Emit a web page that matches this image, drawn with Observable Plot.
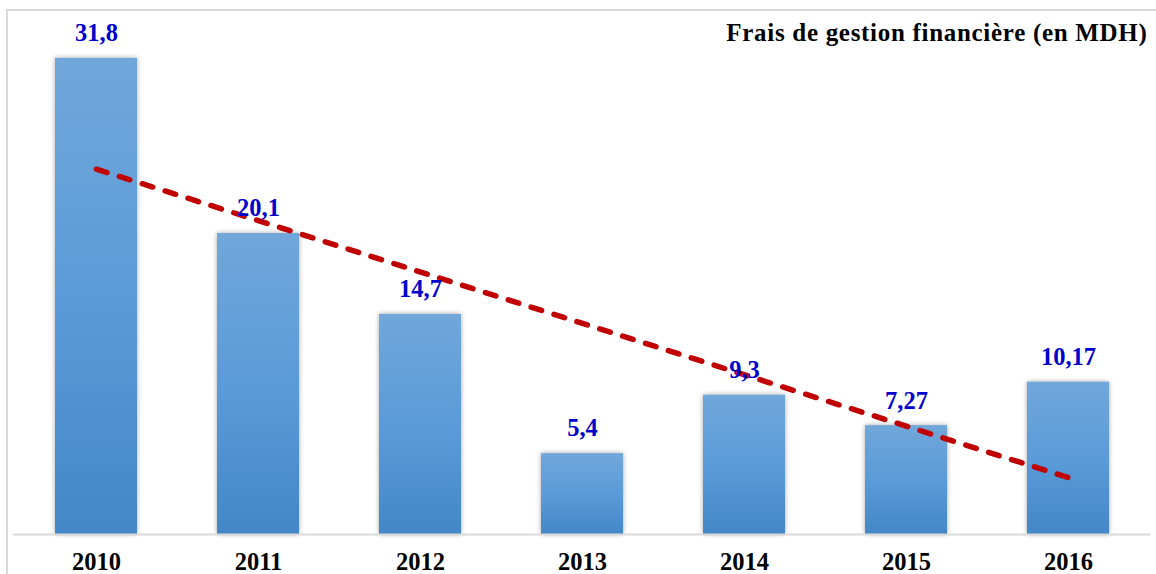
<!DOCTYPE html>
<html>
<head>
<meta charset="utf-8">
<script src="https://cdn.jsdelivr.net/npm/d3@7"></script>
<script src="https://cdn.jsdelivr.net/npm/@observablehq/plot@0.6"></script>
<style>
  html, body { margin: 0; padding: 0; background: #fff; }
  #wrap { position: relative; width: 1156px; height: 574px; overflow: hidden; }
  #wrap svg { display: block; }
  #frame { position: absolute; left: 6px; top: 9px; width: 1160px; height: 600px;
           border-top: 2px solid #d9d9d9; border-left: 2px solid #d9d9d9; pointer-events: none; }
  .bars rect { filter: drop-shadow(0px 0px 2.5px rgba(0,0,0,0.35)); }
  .title text { letter-spacing: 0.7px; }
</style>
</head>
<body>
<div id="wrap"><div id="frame"></div></div>
<script>
const years = ["2010", "2011", "2012", "2013", "2014", "2015", "2016"];
const values = [31.8, 20.1, 14.7, 5.4, 9.3, 7.27, 10.17];
const labels = ["31,8", "20,1", "14,7", "5,4", "9,3", "7,27", "10,17"];
const trendYears = ["2010", "2016"];
const trendValues = [24.4, 3.8];
const title = "Frais de gestion financière (en MDH)";

const data = years.map((y, i) => ({year: y, value: values[i], label: labels[i]}));
const trend = trendYears.map((y, i) => ({year: y, value: trendValues[i]}));
const serif = "'Liberation Serif', 'Times New Roman', serif";

const chart = Plot.plot({
  width: 1156,
  height: 574,
  marginLeft: 13,
  marginRight: 6,
  marginTop: 10,
  marginBottom: 40,
  style: {fontFamily: serif, background: "transparent"},
  x: {domain: years, paddingInner: 0.495, paddingOuter: 0.2475, label: null},
  y: {domain: [0, 35], axis: null},
  marks: [
    Plot.barY(data, {x: "year", y: "value", fill: "url(#barGrad)", className: "bars"}),
    Plot.ruleY([0], {stroke: "#d9d9d9", strokeWidth: 2}),
    Plot.axisX({tickSize: 0, tickPadding: 18, fontSize: 24.5, fontWeight: "bold", fontFamily: serif, fill: "#000", label: null}),
    Plot.line(trend, {x: "year", y: "value", stroke: "#c00000", strokeWidth: 5.5, strokeDasharray: "11,13", strokeLinecap: "round"}),
    Plot.text(data, {x: "year", y: "value", text: "label", dy: -25, fill: "#0000cc", fontSize: 24.5, fontWeight: "bold", fontFamily: serif}),
    Plot.text([title], {frameAnchor: "top-right", lineAnchor: "middle", dx: -3, dy: 22, fill: "#000", fontSize: 25, fontWeight: "bold", fontFamily: serif, className: "title"})
  ]
});

const svg = d3.select(chart);
const defs = svg.insert("defs", ":first-child");
const g = defs.append("linearGradient").attr("id", "barGrad").attr("x1", 0).attr("y1", 0).attr("x2", 0).attr("y2", 1);
g.append("stop").attr("offset", "0%").attr("stop-color", "#71a7da");
g.append("stop").attr("offset", "50%").attr("stop-color", "#5b9bd9");
g.append("stop").attr("offset", "100%").attr("stop-color", "#4387c7");

document.getElementById("wrap").insertBefore(chart, document.getElementById("frame"));
</script>
</body>
</html>
